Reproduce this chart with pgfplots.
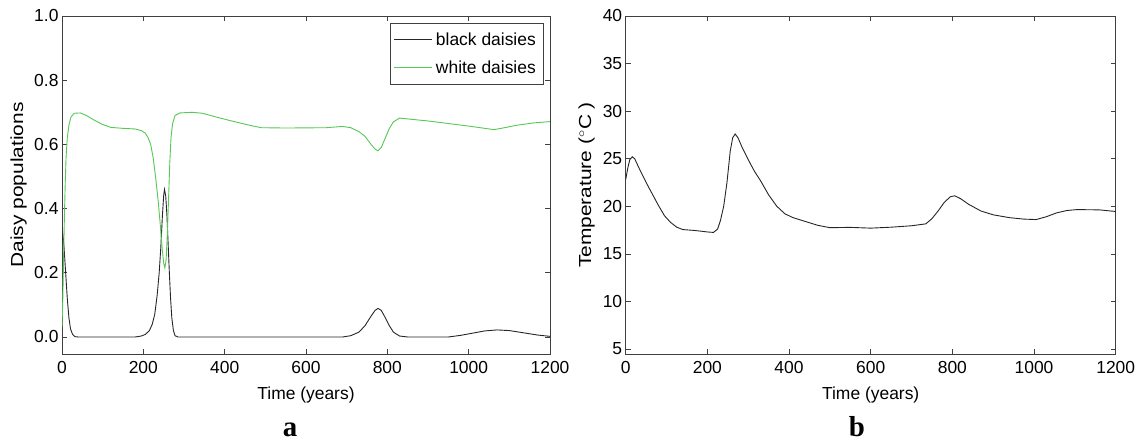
\documentclass[border=0pt]{standalone}
\usepackage{fontspec}
\setmainfont{Liberation Sans}
\newfontfamily\serifb{Liberation Serif}
\usepackage{pgfplots}
\pgfplotsset{compat=1.18}

\definecolor{whited}{RGB}{85,200,85}
\newcommand{\fs}{\fontsize{17.5}{20}\selectfont}

\pgfplotsset{
  mat/.style={
    scale only axis,
    height=338bp,
    xmin=0, xmax=1200,
    xtick={0,200,...,1200},
    tick align=inside,
    major tick length=5bp,
    xtick pos=both, ytick pos=both,
    axis line style={black!75, line width=0.6bp},
    tick style={black!75, line width=0.6bp},
    ticklabel style={font=\fs},
    xticklabel style={yshift=-4bp},
    xticklabel style={/pgf/number format/.cd, set thousands separator={}},
    /pgf/number format/assume math mode=true,
    xlabel={Time (years)},
    every axis x label/.style={at={(rel axis cs:0.5,0)}, yshift=-41bp, anchor=center, font=\fs},
    clip=true,
  },
}

\begin{document}
\begin{tikzpicture}
\useasboundingbox (0bp,0bp) rectangle (1143bp,440bp);

% panel a: daisy populations
\begin{axis}[mat,
  at={(62bp,86bp)}, anchor=south west,
  width=488bp,
  ymin=-0.053, ymax=1.0,
  ytick={0,0.2,...,1.0},
  yticklabel style={/pgf/number format/.cd, fixed, fixed zerofill, precision=1},
  ylabel={\scalebox{1.2}[1]{Daisy populations}},
  every axis y label/.style={at={(rel axis cs:0,0.5)}, xshift=-43.5bp, rotate=90, anchor=center, font=\fs},
  legend style={at={(rel axis cs:1,1)}, anchor=north east, xshift=-7bp, yshift=-7bp,
    draw=black!75, font=\fs, inner xsep=3.5bp, inner ysep=6bp,
    nodes={inner sep=3.5bp}, row sep=7bp, cells={anchor=west}},
  legend image code/.code={\draw[#1] (0bp,0bp) -- (38bp,0bp);},
]
\addplot[black!85, line width=0.9bp] coordinates {
 (0,0.30) (2,0.32) (5,0.28) (9,0.2) (13,0.12) (17,0.06) (21,0.025) (26,0.008) (32,0.001) (40,0)
 (180,0) (195,0.003) (205,0.008) (215,0.02) (222,0.04) (228,0.07) (234,0.13) (239,0.2)
 (243,0.28) (247,0.38) (250,0.44) (252,0.46) (255,0.44) (258,0.38) (261,0.29) (264,0.2)
 (267,0.12) (270,0.06) (274,0.02) (278,0.004) (285,0)
 (690,0) (710,0.004) (730,0.015) (745,0.035) (760,0.065) (770,0.083) (777,0.089) (785,0.083)
 (795,0.06) (805,0.035) (815,0.015) (830,0.003) (850,0)
 (950,0) (980,0.005) (1010,0.012) (1040,0.019) (1070,0.022) (1100,0.02) (1140,0.012)
 (1170,0.006) (1200,0.002)
};
\addlegendentry{black daisies}
\addplot[whited, line width=0.9bp] coordinates {
 (0,0.03) (2,0.12) (4,0.25) (6,0.38) (8,0.48) (10,0.56) (13,0.62) (17,0.66) (22,0.685)
 (30,0.697) (45,0.698) (60,0.69) (80,0.675) (100,0.662) (120,0.653) (150,0.65) (180,0.648)
 (195,0.643) (205,0.635) (212,0.62) (218,0.6) (224,0.56) (230,0.5) (236,0.43) (241,0.36)
 (246,0.28) (250,0.23) (253,0.215) (256,0.24) (259,0.32) (262,0.43) (265,0.54) (268,0.62)
 (272,0.665) (278,0.69) (290,0.698) (320,0.7) (345,0.697) (380,0.685) (420,0.672) (460,0.66)
 (490,0.652) (550,0.651) (650,0.652) (690,0.656) (710,0.652) (730,0.64) (745,0.625)
 (760,0.6) (770,0.585) (777,0.58) (785,0.59) (795,0.62) (805,0.65) (815,0.67) (830,0.682)
 (845,0.68) (900,0.673) (950,0.665) (1000,0.657) (1040,0.65) (1062,0.646) (1080,0.65)
 (1120,0.66) (1160,0.667) (1200,0.671)
};
\addlegendentry{white daisies}
\end{axis}

% panel b: temperature
\begin{axis}[mat,
  at={(625.7bp,86bp)}, anchor=south west,
  width=490bp,
  ymin=4.47, ymax=40,
  ytick={5,10,...,40},
  ylabel={\scalebox{1.2}[1]{Temperature ($^\circ$C )}},
  every axis y label/.style={at={(rel axis cs:0,0.5)}, xshift=-39bp, rotate=90, anchor=center, font=\fs},
]
\addplot[black!85, line width=0.9bp] coordinates {
 (0,22.8) (5,24.0) (10,24.9) (16,25.2) (22,25.0) (35,23.8) (50,22.5) (65,21.3) (80,20.1)
 (95,19.0) (110,18.3) (125,17.8) (140,17.55) (170,17.45) (200,17.3) (215,17.25) (225,17.6)
 (232,18.5) (240,20.0) (248,22.5) (256,25.8) (262,27.2) (268,27.6) (275,27.2) (285,26.2)
 (300,24.9) (315,23.7) (330,22.7) (350,21.2) (370,20.0) (390,19.2) (410,18.8) (440,18.4)
 (470,18.0) (500,17.75) (550,17.78) (600,17.7) (650,17.8) (700,17.95) (735,18.15) (750,18.7)
 (765,19.5) (780,20.4) (795,21.0) (806,21.1) (820,20.8) (840,20.2) (870,19.5) (900,19.1)
 (940,18.8) (975,18.65) (1005,18.6) (1030,18.9) (1055,19.3) (1080,19.55) (1105,19.65)
 (1160,19.62) (1200,19.45)
};
\end{axis}

\node[font=\serifb\bfseries\fontsize{29}{30}\selectfont, anchor=base, inner sep=0pt] at (290bp,4bp) {a};
\node[font=\serifb\bfseries\fontsize{29}{30}\selectfont, anchor=base, inner sep=0pt] at (857bp,4bp) {b};
\end{tikzpicture}
\end{document}
